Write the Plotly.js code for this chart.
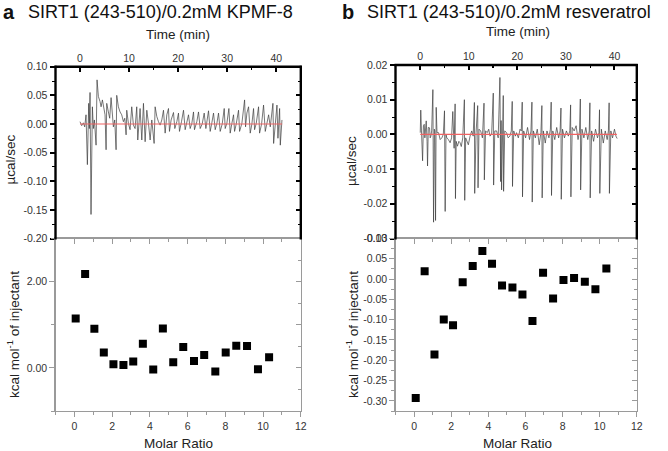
<!DOCTYPE html>
<html>
<head>
<meta charset="utf-8">
<script src="https://cdn.plot.ly/plotly-3.0.1.min.js"></script>
<style>html,body{margin:0;padding:0;background:#fff;}#chart{width:668px;height:451px;}</style>
</head>
<body>
<div id="chart"></div>
<script>
// ---------- Panel a: raw thermogram (time, µcal/sec) ----------
const timeA = [0.00,0.34,0.68,0.95,1.22,1.50,1.77,1.90,2.04,2.24,2.52,2.72,2.93,3.27,3.47,3.74,4.08,4.29,4.56,4.90,5.10,5.31,5.44,5.78,6.05,6.33,6.53,6.80,7.07,7.35,7.48,7.82,8.16,8.50,8.84,9.12,9.39,9.52,9.86,10.20,10.54,10.88,11.22,11.56,11.77,12.04,12.24,12.59,12.79,12.93,13.27,13.61,13.95,14.29,14.63,15.10,15.31,15.65,15.99,16.33,16.67,17.01,17.35,17.69,18.03,18.23,18.57,19.05,19.32,19.73,20.07,20.27,20.68,21.09,21.43,21.77,22.11,22.45,22.79,23.13,23.33,23.81,24.15,24.49,24.90,25.31,25.65,26.19,26.53,26.87,27.21,27.55,27.89,28.23,28.57,28.98,29.39,29.59,29.93,30.34,30.61,30.95,31.29,31.50,31.84,32.31,32.52,32.99,33.54,33.74,34.01,34.35,34.69,35.03,35.37,35.58,35.92,36.39,36.60,37.01,37.41,37.76,38.10,38.44,38.78,39.32,39.46,39.80,40.14,40.34,40.54,40.68,40.82,41.16];
const powerA = [0.004,-0.003,0.002,-0.005,0.016,-0.071,0.036,-0.008,0.055,-0.158,0.030,-0.008,0.007,-0.037,0.077,0.048,0.039,0.030,0.042,0.027,0.016,-0.045,0.036,0.021,0.010,0.046,0.019,-0.005,0.007,-0.045,0.050,0.030,0.021,0.016,0.004,0.010,-0.019,0.024,0.001,-0.010,0.030,-0.002,-0.008,0.030,-0.028,0.010,0.027,-0.028,0.007,0.036,-0.031,0.024,0.001,-0.028,0.007,-0.034,0.030,0.013,0.004,-0.002,0.007,0.024,-0.016,0.016,0.027,-0.013,0.007,0.020,-0.008,0.004,0.019,-0.013,0.004,0.024,-0.010,0.001,0.016,-0.008,0.001,0.021,-0.010,0.004,0.021,-0.008,0.000,0.019,-0.008,0.023,-0.013,0.002,0.019,-0.010,0.001,0.019,-0.013,0.000,0.027,-0.008,0.001,0.027,-0.016,0.001,0.016,-0.013,0.000,0.024,-0.013,0.001,0.042,-0.005,0.019,0.030,-0.016,0.000,0.027,-0.010,0.001,0.030,-0.016,0.000,0.033,-0.013,0.004,0.016,-0.005,0.036,-0.034,0.000,0.033,-0.025,0.007,0.027,-0.037,0.007];
const baselineTimeA = [0, 41.2];
const baselineA = [0, 0];

// ---------- Panel a: integrated heats ----------
const molarA = [0.07,0.57,1.06,1.56,2.07,2.60,3.12,3.63,4.18,4.69,5.24,5.77,6.34,6.88,7.47,8.02,8.58,9.15,9.73,10.32];
const heatA = [1.146,2.177,0.908,0.354,0.085,0.069,0.146,0.562,-0.038,0.915,0.131,0.485,0.162,0.300,-0.085,0.354,0.515,0.508,-0.031,0.246];

// ---------- Panel b: raw thermogram ----------
const timeB = [0.00,0.10,0.25,0.48,0.65,0.82,0.95,1.10,1.23,1.40,1.50,1.65,1.91,2.05,2.19,2.35,2.60,2.74,2.90,3.01,3.15,3.28,3.45,3.76,4.10,4.44,4.75,4.99,5.13,5.30,5.47,5.80,6.15,6.45,6.70,6.97,7.18,7.25,7.40,7.66,7.95,8.20,8.45,8.75,9.09,9.16,9.35,9.57,9.90,10.26,10.60,10.90,11.15,11.21,11.49,11.83,11.90,12.10,12.44,12.80,13.13,13.20,13.45,13.81,14.10,14.36,14.70,15.04,15.11,15.35,15.73,16.05,16.41,16.55,16.65,16.75,16.90,17.10,17.16,17.40,17.78,18.10,18.46,18.75,18.94,19.00,19.25,19.60,19.83,20.20,20.55,20.80,21.00,21.06,21.30,21.70,22.10,22.50,22.80,23.00,23.06,23.30,23.70,24.10,24.50,24.85,25.05,25.11,25.35,25.75,26.10,26.50,26.80,26.97,27.03,27.30,27.70,28.10,28.50,28.80,28.98,29.04,29.30,29.70,30.10,30.50,30.80,30.97,31.03,31.30,31.70,32.10,32.50,32.80,32.97,33.03,33.30,33.70,34.10,34.50,34.80,34.94,35.00,35.30,35.70,36.10,36.50,36.80,36.92,36.98,37.30,37.70,38.10,38.50,38.75,38.90,38.96,39.25,39.60,40.00,40.30,40.55];
const powerB = [0.0005,0.0070,0.0010,-0.0076,0.0025,0.0029,-0.0010,0.0035,0.0039,-0.0020,-0.0091,0.0020,0.0019,-0.0010,-0.0005,0.0010,0.0129,-0.0253,0.0015,0.0010,-0.0248,0.0078,0.0005,0.0005,-0.0015,-0.0010,0.0000,0.0068,-0.0222,0.0000,-0.0010,-0.0015,-0.0024,-0.0010,0.0066,-0.0040,0.0088,-0.0185,-0.0020,-0.0034,-0.0020,-0.0024,-0.0035,-0.0010,0.0100,-0.0190,-0.0010,-0.0020,-0.0030,-0.0005,0.0010,-0.0005,0.0092,-0.0170,0.0005,0.0083,-0.0154,0.0015,0.0010,-0.0010,0.0090,-0.0131,0.0010,0.0005,0.0015,-0.0005,0.0000,0.0119,-0.0146,0.0010,0.0010,-0.0010,0.0164,-0.0136,0.0040,-0.0160,0.0010,0.0112,-0.0164,0.0010,0.0005,-0.0010,-0.0005,0.0010,0.0095,-0.0150,0.0010,-0.0005,0.0005,-0.0010,0.0015,0.0010,0.0093,-0.0180,0.0010,-0.0010,0.0020,-0.0015,0.0010,0.0093,-0.0195,0.0010,-0.0010,0.0015,-0.0030,0.0005,0.0083,-0.0183,0.0010,-0.0025,0.0010,-0.0010,0.0015,0.0093,-0.0176,0.0010,-0.0015,0.0020,-0.0010,0.0010,0.0076,-0.0187,0.0015,-0.0010,0.0010,-0.0005,0.0010,0.0085,-0.0180,0.0020,0.0010,0.0025,-0.0015,0.0010,0.0102,-0.0160,0.0015,-0.0010,0.0020,-0.0015,0.0010,0.0091,-0.0183,0.0010,-0.0020,0.0015,-0.0010,0.0005,0.0071,-0.0170,0.0015,-0.0025,0.0010,-0.0015,0.0010,0.0091,-0.0170,0.0010,-0.0010,0.0015,-0.0005,-0.0012];
const baselineTimeB = [0, 40.5];
const baselineB = [0, 0];

// ---------- Panel b: integrated heats ----------
const molarB = [0.09,0.57,1.10,1.60,2.10,2.62,3.16,3.68,4.20,4.74,5.30,5.84,6.38,6.95,7.49,8.05,8.62,9.20,9.77,10.36];
const heatB = [-0.293,0.0196,-0.186,-0.0997,-0.114,-0.008,0.032,0.069,0.038,-0.0155,-0.021,-0.038,-0.103,0.0155,-0.048,-0.0025,0.0025,-0.0065,-0.025,0.026];

// ---------- Tick labels ----------
const timeTicks = [0, 10, 20, 30, 40];
const yTicksTopA = [0.10, 0.05, 0.00, -0.05, -0.10, -0.15, -0.20];
const yTicksBotA = [0.00, 2.00];
const yTicksTopB = [0.02, 0.01, 0.00, -0.01, -0.02, -0.03];
const yTicksBotB = [0.10, 0.05, 0.00, -0.05, -0.10, -0.15, -0.20, -0.25, -0.30];
const molarTicks = [0, 2, 4, 6, 8, 10, 12];

const panelTitles = ['SIRT1 (243-510)/0.2mM KPMF-8', 'SIRT1 (243-510)/0.2mM resveratrol'];
const panelLetters = ['a', 'b'];

// ---------- layout helpers ----------
const W = 668, H = 451;
const px = v => v / W;
const py = v => 1 - v / H;
const FONT = 'Liberation Sans, Arial, sans-serif';
const TICKFONT = {family: FONT, size: 10.5, color: '#333'};
const fmt = v => v.toFixed(2);
const BLACK = '#000', GRAY = '#9a9a9a';
const FRAME = '#000';

const A = {l: 55.5, r: 300.8, t: 66.7};
const B = {l: 395.5, r: 636.8, t: 65};
const MID = 238.5, BOT = 411;

const domA = [px(A.l), px(A.r)];
const domB = [px(B.l), px(B.r)];
const domTopA = [py(MID), py(A.t)];
const domTopB = [py(MID), py(B.t)];
const domBot = [py(BOT), py(MID)];

function base(extra) {
  return Object.assign({showgrid: false, zeroline: false, tickfont: TICKFONT, fixedrange: true}, extra);
}

const traceLine = '#3c3c3c';
const red = '#f06262';

const data = [
  {x: timeA, y: powerA, xaxis: 'x', yaxis: 'y', mode: 'lines', line: {color: traceLine, width: 0.7}},
  {x: baselineTimeA, y: baselineA, xaxis: 'x', yaxis: 'y', mode: 'lines', line: {color: red, width: 1.1}},
  {x: molarA, y: heatA, xaxis: 'x2', yaxis: 'y2', mode: 'markers', marker: {symbol: 'square', size: 8, color: '#000'}},
  {x: timeB, y: powerB, xaxis: 'x3', yaxis: 'y3', mode: 'lines', line: {color: traceLine, width: 0.7}},
  {x: baselineTimeB, y: baselineB, xaxis: 'x3', yaxis: 'y3', mode: 'lines', line: {color: red, width: 1.1}},
  {x: molarB, y: heatB, xaxis: 'x4', yaxis: 'y4', mode: 'markers', marker: {symbol: 'square', size: 8, color: '#000'}},
  {x: [], y: [], xaxis: 'x', yaxis: 'y5', mode: 'markers'},
  {x: [], y: [], xaxis: 'x2', yaxis: 'y6', mode: 'markers'},
  {x: [], y: [], xaxis: 'x3', yaxis: 'y7', mode: 'markers'},
  {x: [], y: [], xaxis: 'x4', yaxis: 'y8', mode: 'markers'},
  {x: [], y: [], xaxis: 'x5', yaxis: 'y2', mode: 'markers'},
  {x: [], y: [], xaxis: 'x6', yaxis: 'y4', mode: 'markers'}
];

const topX = (dom, range, anchor) => base({domain: dom, range: range, side: 'top', anchor: anchor,
  tickvals: timeTicks, ticktext: timeTicks.map(String), ticks: 'inside', ticklen: 5, tickwidth: 2, tickcolor: BLACK,
  minor: {ticks: 'inside', ticklen: 3, dtick: 5, tick0: 0, tickcolor: BLACK, tickwidth: 1.2},
  showline: false, ticklabelstandoff: 2});

const leftY = (dom, range, vals, minorD, anchor, color, lw, tw, line) => base({domain: dom, range: range, anchor: anchor,
  tickvals: vals, ticktext: vals.map(fmt), ticks: 'outside', ticklen: 5, tickwidth: tw, tickcolor: color,
  minor: {ticks: 'outside', ticklen: 3, dtick: minorD, tick0: 0, tickcolor: color, tickwidth: 1},
  showline: line, linecolor: color, linewidth: lw});

const rightY = (ov, range, dtickMaj, minorD, anchor, color, lw, tw, line) => base({overlaying: ov, side: 'right', anchor: anchor, range: range,
  dtick: dtickMaj, tick0: 0, showticklabels: false, ticks: 'inside', ticklen: 5, tickwidth: tw, tickcolor: color,
  minor: {ticks: 'inside', ticklen: 3, dtick: minorD, tick0: 0, tickcolor: color, tickwidth: 1},
  showline: line, linecolor: color, linewidth: lw});

const botX = (dom, anchor) => base({domain: dom, range: [-1, 12], anchor: anchor,
  tickvals: molarTicks, ticktext: molarTicks.map(String), ticks: 'outside', ticklen: 5, tickwidth: 1, tickcolor: GRAY,
  minor: {ticks: 'outside', ticklen: 3, dtick: 1, tick0: 0, tickcolor: GRAY, tickwidth: 1},
  showline: true, linecolor: GRAY, linewidth: 1.2, ticklabelstandoff: 0});

const topOverX = (ov, anchor) => base({overlaying: ov, side: 'top', anchor: anchor, range: [-1, 12],
  dtick: 2, tick0: 0, showticklabels: false, ticks: 'inside', ticklen: 5, tickwidth: 1, tickcolor: GRAY,
  minor: {ticks: 'inside', ticklen: 3, dtick: 1, tick0: 0, tickcolor: GRAY, tickwidth: 1},
  showline: true, linecolor: GRAY, linewidth: 1.2});

const layout = {
  width: W, height: H,
  margin: {l: 0, r: 0, t: 0, b: 0},
  paper_bgcolor: '#fff', plot_bgcolor: 'rgba(0,0,0,0)',
  showlegend: false,
  font: {family: FONT, color: '#222'},
  xaxis: topX(domA, [-5, 45], 'y'),
  yaxis: leftY(domTopA, [-0.2, 0.1], yTicksTopA, 0.025, 'x', BLACK, 2, 2, false),
  yaxis5: rightY('y', [-0.2, 0.1], 0.05, 0.025, 'x', BLACK, 2, 2, false),
  xaxis2: botX(domA, 'y2'),
  yaxis2: leftY(domBot, [-1, 3], yTicksBotA, 1, 'x2', GRAY, 1.2, 1, true),
  yaxis6: rightY('y2', [-1, 3], 1, 0.5, 'x2', GRAY, 1.2, 1, true),
  xaxis5: topOverX('x2', 'y2'),
  xaxis3: topX(domB, [-5.1, 44.6], 'y3'),
  yaxis3: leftY(domTopB, [-0.03, 0.02], yTicksTopB, 0.005, 'x3', BLACK, 2, 2, false),
  yaxis7: rightY('y3', [-0.03, 0.02], 0.01, 0.005, 'x3', BLACK, 2, 2, false),
  xaxis4: botX(domB, 'y4'),
  yaxis4: leftY(domBot, [-0.325, 0.1], yTicksBotB, 0.025, 'x4', GRAY, 1.2, 1, true),
  yaxis8: rightY('y4', [-0.325, 0.1], 0.05, 0.025, 'x4', GRAY, 1.2, 1, true),
  xaxis6: topOverX('x4', 'y4'),
  annotations: [],
  shapes: []
};

// bold black frames (left, top, right) around the raw-data plots
[A, B].forEach(f => {
  const pts = [[f.l, MID + 1, f.l, f.t - 1], [f.l - 1, f.t, f.r + 1, f.t], [f.r, f.t - 1, f.r, MID + 1]];
  pts.forEach(p => layout.shapes.push({type: 'line', xref: 'paper', yref: 'paper', layer: 'above',
    x0: px(p[0]), y0: py(p[1]), x1: px(p[2]), y1: py(p[3]), line: {color: FRAME, width: 2.4}}));
});

const ann = (text, x, y, opts) => Object.assign({text: text, x: px(x), y: py(y), xref: 'paper', yref: 'paper',
  showarrow: false, xanchor: 'center', yanchor: 'middle', font: {family: FONT, size: 13.5, color: '#222'}}, opts || {});

layout.annotations.push(
  ann('<b>' + panelLetters[0] + '</b>', 1, 12, {xanchor: 'left', font: {family: FONT, size: 20, color: '#111'}}),
  ann(panelTitles[0], 26, 12, {xanchor: 'left', font: {family: FONT, size: 18, color: '#111'}}),
  ann('<b>' + panelLetters[1] + '</b>', 340, 12, {xanchor: 'left', font: {family: FONT, size: 20, color: '#111'}}),
  ann(panelTitles[1], 365, 12, {xanchor: 'left', font: {family: FONT, size: 18, color: '#111'}}),
  ann('Time (min)', 178, 34),
  ann('Time (min)', 517.5, 32),
  ann('µcal/sec', 9.5, 160, {textangle: -90}),
  ann('µcal/sec', 352, 161, {textangle: -90}),
  ann('kcal mol<sup>-1</sup> of injectant', 13, 335, {textangle: -90}),
  ann('kcal mol<sup>-1</sup> of injectant', 352, 335, {textangle: -90}),
  ann('Molar Ratio', 178, 443),
  ann('Molar Ratio', 517, 443)
);

Plotly.newPlot('chart', data, layout, {staticPlot: true, displayModeBar: false});
</script>
</body>
</html>
